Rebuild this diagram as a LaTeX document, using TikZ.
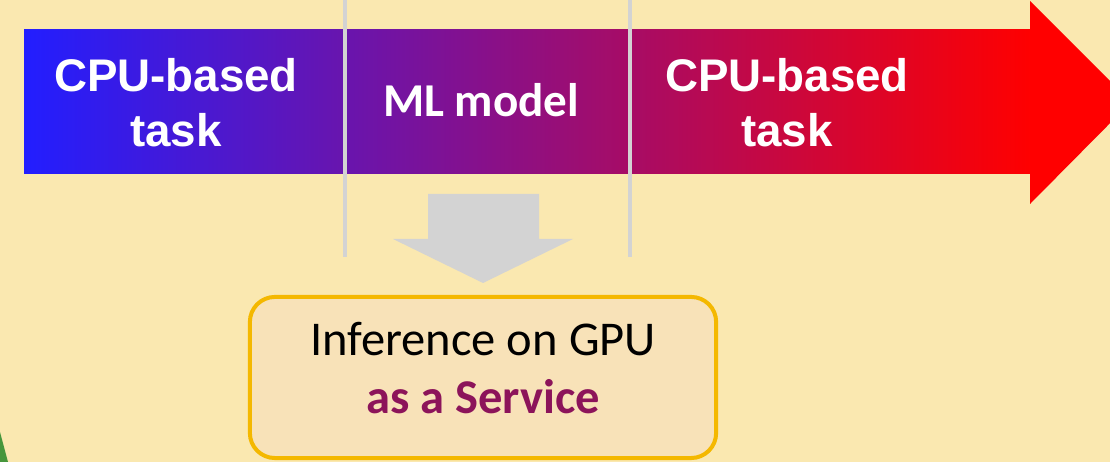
\documentclass[tikz,border=0pt]{standalone}
\usepackage{fontspec}
\setmainfont{Liberation Sans}
\newfontfamily\calibri{Carlito}
\usetikzlibrary{positioning}
\definecolor{paper}{RGB}{250,232,176}
\definecolor{boxfill}{RGB}{248,226,184}
\definecolor{boxline}{RGB}{244,184,0}
\definecolor{divider}{RGB}{211,211,211}
\definecolor{service}{RGB}{140,20,90}
\definecolor{startblue}{RGB}{34,30,255}
\definecolor{midpurple}{RGB}{135,10,160}
\definecolor{leafgreen}{RGB}{70,150,60}
\tikzset{
 tasktext/.style={text=white, align=center, font=\bfseries\fontsize{13}{15.6}\selectfont},
 modeltext/.style={text=white, font=\calibri\bfseries\fontsize{13.4}{16}\selectfont},
 gpubox/.style={draw=boxline, line width=0.04cm, fill=boxfill, rounded corners=0.25cm,
   minimum width=4.66cm, minimum height=1.61cm},
 gputext/.style={align=center, font=\calibri\fontsize{13.8}{16.5}\selectfont}
}
\begin{document}
\begin{tikzpicture}[x=0.01cm, y=-0.01cm]
\fill[paper] (0,0) rectangle (1110,462);
\useasboundingbox (0,0) rectangle (1110,462);
\clip (0,0) rectangle (1110,462);
\fill[leafgreen] (0,432) -- (8,462) -- (0,462) -- cycle;
% pipeline arrow
\shade[left color=startblue, middle color=midpurple, right color=red] (24,30) rectangle (1031,174);
\fill[red] (1030,1) -- (1131,102) -- (1030,204) -- cycle;
\node[tasktext] (cpuA) at (176,103) {CPU-based\\task};
\node[modeltext] (ml) at (481,100) {ML model};
\node[tasktext] (cpuB) at (787,103) {CPU-based\\task};
\foreach \x in {344.5,629.5} {
 \draw[divider, line width=0.04cm] (\x,0) -- (\x,257);
}
% offload to service
\fill[divider] (428,194) -- (539,194) -- (539,239) -- (573,239) -- (483,283) -- (393,239) -- (428,239) -- cycle;
\node[gpubox] (gpu) at (483,377.5) {};
\node[gputext] (gpuLabel) at (483,368) {Inference on GPU\\\textcolor{service}{\bfseries as a Service}};
\end{tikzpicture}
\end{document}
